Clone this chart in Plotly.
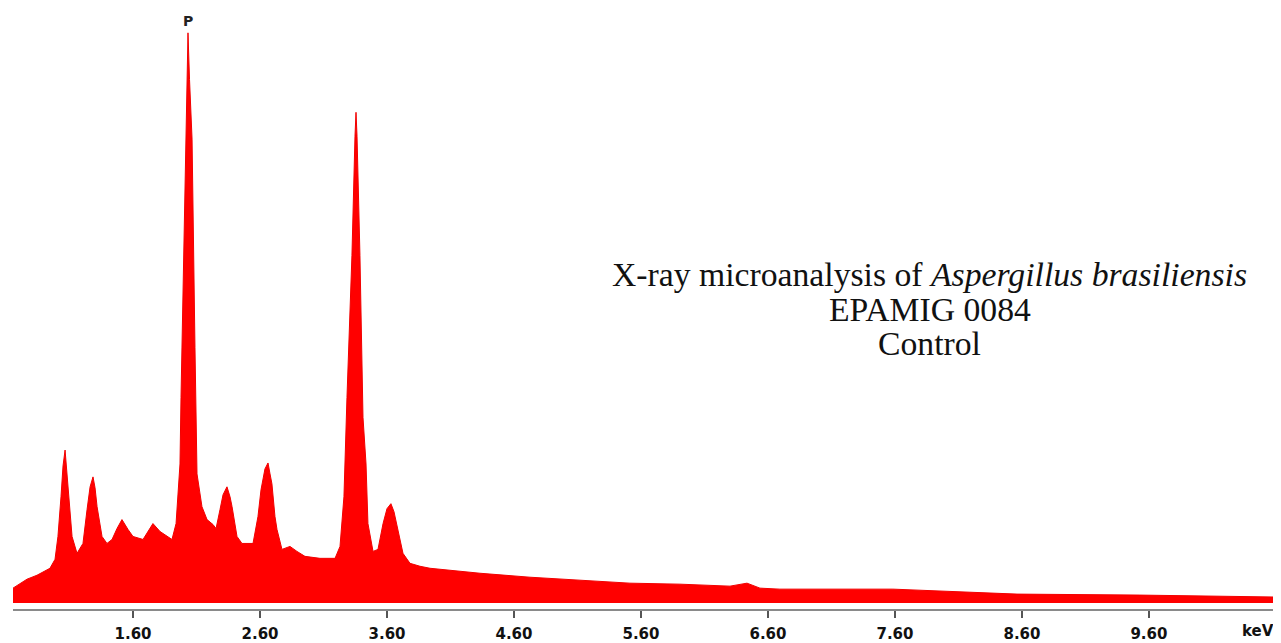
import plotly.graph_objects as go

# Energy (keV) and intensity (arbitrary counts)
energy_kev = [
    0.655, 0.765, 0.844, 0.946, 0.986, 1.009, 1.033, 1.049, 1.065, 1.076,
    1.088, 1.120, 1.159, 1.206, 1.238, 1.262, 1.285, 1.301, 1.317, 1.356,
    1.395, 1.435, 1.474, 1.513, 1.561, 1.600, 1.679, 1.718, 1.757, 1.813,
    1.868, 1.907, 1.939, 1.970, 1.978, 1.986, 2.017, 2.025, 2.033, 2.045,
    2.065, 2.088, 2.104, 2.143, 2.183, 2.230, 2.254, 2.285, 2.309, 2.340,
    2.364, 2.380, 2.403, 2.419, 2.458, 2.545, 2.584, 2.608, 2.639, 2.663,
    2.679, 2.694, 2.718, 2.734, 2.773, 2.836, 2.891, 2.954, 3.072, 3.191,
    3.230, 3.261, 3.285, 3.324, 3.348, 3.356, 3.364, 3.387, 3.411, 3.435,
    3.450, 3.490, 3.529, 3.569, 3.600, 3.631, 3.655, 3.679, 3.726, 3.781,
    3.860, 3.939, 4.332, 4.726, 5.120, 5.513, 5.907, 6.301, 6.435, 6.537,
    6.694, 7.246, 7.584, 8.561, 9.529, 10.631,
]
counts = [
    15, 24, 28, 35, 44, 67, 107, 138, 154, 136,
    114, 67, 50, 60, 94, 117, 127, 116, 97, 67,
    60, 64, 75, 84, 74, 67, 64, 72, 80, 72,
    67, 64, 80, 140, 207, 257, 467, 527, 574, 527,
    467, 257, 130, 97, 84, 79, 75, 94, 109, 117,
    107, 97, 77, 67, 60, 60, 87, 114, 135, 141,
    130, 120, 87, 74, 54, 57, 52, 47, 45, 45,
    57, 107, 207, 350, 470, 494, 470, 350, 187, 140,
    80, 52, 54, 80, 95, 100, 92, 77, 50, 40,
    37, 35, 30, 26, 23, 20, 19, 17, 20, 15,
    14, 14, 14, 9, 8, 6,
]

tick_vals = [1.6, 2.6, 3.6, 4.6, 5.6, 6.6, 7.6, 8.6, 9.6]
tick_text = ["1.60", "2.60", "3.60", "4.60", "5.60", "6.60", "7.60", "8.60", "9.60"]

title_lines = [
    "X-ray microanalysis of <i>Aspergillus brasiliensis</i>",
    "EPAMIG 0084",
    "Control",
]

fig = go.Figure()
fig.add_trace(go.Scatter(
    x=energy_kev, y=counts, mode="lines", fill="tozeroy",
    fillcolor="#ff0000", line=dict(color="#f20000", width=1),
    hoverinfo="skip", showlegend=False,
))

serif = "Liberation Serif, Times New Roman, serif"
for txt, yv in zip(title_lines, [331, 295, 261]):
    fig.add_annotation(x=0.723, xref="paper", y=yv, yref="y", text=txt,
                       showarrow=False, xanchor="center", yanchor="middle",
                       font=dict(family=serif, size=33.7, color="#111111"))

fig.add_annotation(x=2.033, y=586, xref="x", yref="y", text="<b>P</b>",
                   showarrow=False, xanchor="center", yanchor="middle",
                   font=dict(family="DejaVu Sans", size=14, color="#222222"))

fig.add_annotation(x=10.46, xref="x", y=0, yref="paper", text="<b>keV</b>",
                   showarrow=False, xanchor="center", yanchor="middle", yshift=-22,
                   font=dict(family="DejaVu Sans", size=15, color="#111111"))

fig.update_layout(
    width=1273, height=635,
    margin=dict(l=5, r=0, t=0, b=30),
    paper_bgcolor="white", plot_bgcolor="white",
    xaxis=dict(range=[0.655, 10.64], tickmode="array", tickvals=tick_vals,
               ticktext=["<b>" + t + "</b>" for t in tick_text],
               showgrid=False, zeroline=False,
               showline=True, linecolor="#8a8a8a", linewidth=1.5,
               ticks="outside", ticklen=7, tickcolor="#555555", tickwidth=1.5,
               ticklabelstandoff=3,
               tickfont=dict(family="DejaVu Sans", size=15, color="#111111")),
    yaxis=dict(range=[-6, 599], visible=False, showgrid=False, zeroline=False),
)

fig.write_html("out.html")
